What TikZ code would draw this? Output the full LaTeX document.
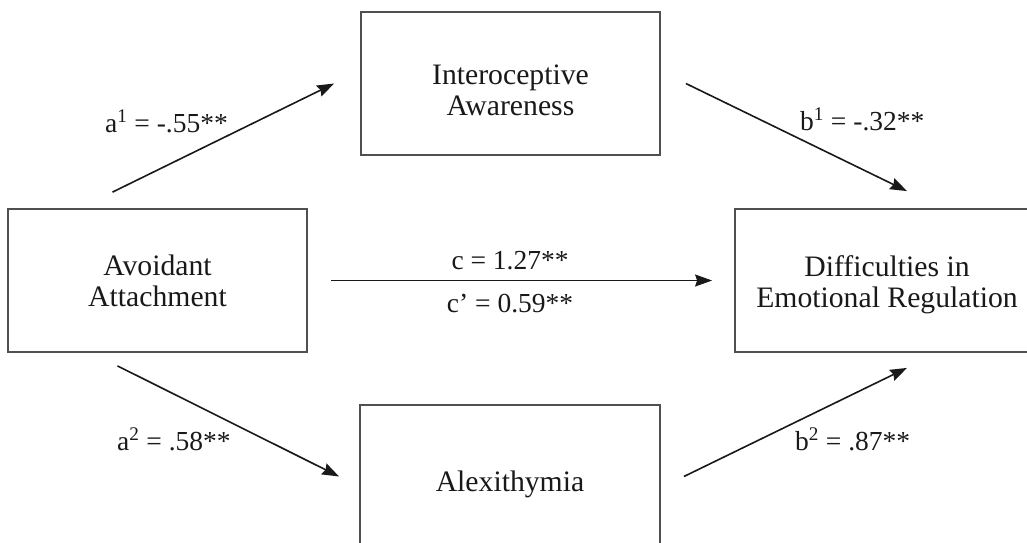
\documentclass[tikz,border=0pt]{standalone}
\usepackage{fontspec}
\setmainfont{Liberation Serif}
\usepackage{tikz}
\usetikzlibrary{arrows.meta,positioning}
\definecolor{boxGray}{RGB}{80,80,80}
\definecolor{inkDark}{RGB}{25,25,25}
\tikzset{
  varbox/.style={rectangle, draw=boxGray, line width=1.8pt,
                 minimum width=299pt, minimum height=143pt,
                 align=center, text=inkDark,
                 font=\fontsize{29.7}{31}\selectfont},
  arr/.style={-{Stealth[length=17pt, width=12pt, inset=2pt]},
              line width=1.6pt, draw=inkDark},
  coef/.style={text=inkDark, inner sep=0pt,
               font=\fontsize{27.5}{29}\selectfont},
}

\begin{document}
\begin{tikzpicture}[x=1pt, y=-1pt]
        \useasboundingbox (0,0) rectangle (1027,542);

        \node[varbox] (avoid) at (157.5,280.5) {Avoidant\\Attachment};
        \node[varbox] (intero) at (510.5,83.5)
              {\rule{0pt}{33pt}Interoceptive\\Awareness};
        \node[varbox, minimum width=300pt, minimum height=159pt] (alexi) at (510,484.5)
              {Alexithymia};
        \node[varbox, minimum width=304pt] (diff) at (887,280.5)
              {\rule{0pt}{29pt}Difficulties in\\Emotional Regulation};

        \draw[arr] ([xshift=-45pt, yshift=16pt]avoid.north) -- ([xshift=-26pt]intero.west);
        \draw[arr] ([xshift=25pt]intero.east) -- ([xshift=20pt, yshift=17pt]diff.north);
        \draw[arr] ([xshift=-40pt, yshift=-13pt]avoid.south) -- ([xshift=-20pt, yshift=8pt]alexi.west);
        \draw[arr] ([xshift=23pt, yshift=8pt]alexi.east) -- ([xshift=20pt, yshift=-15pt]diff.south);
        \draw[arr] ([xshift=23pt]avoid.east) --
              node[coef, pos=0.47, above=10pt] (lc) {c = 1.27**}
              node[coef, pos=0.47, below=13pt] (lcp) {c’ = 0.59**}
              ([xshift=-22pt]diff.west);

        \node[coef, anchor=base west] (la1) at (105,132) {a\textsuperscript{1} = -.55**};
        \node[coef, anchor=base west] (lb1) at (800,130) {b\textsuperscript{1} = -.32**};
        \node[coef, anchor=base west] (la2) at (117,450) {a\textsuperscript{2} = .58**};
        \node[coef, anchor=base west] (lb2) at (795,450) {b\textsuperscript{2} = .87**};
      \end{tikzpicture}
\end{document}
